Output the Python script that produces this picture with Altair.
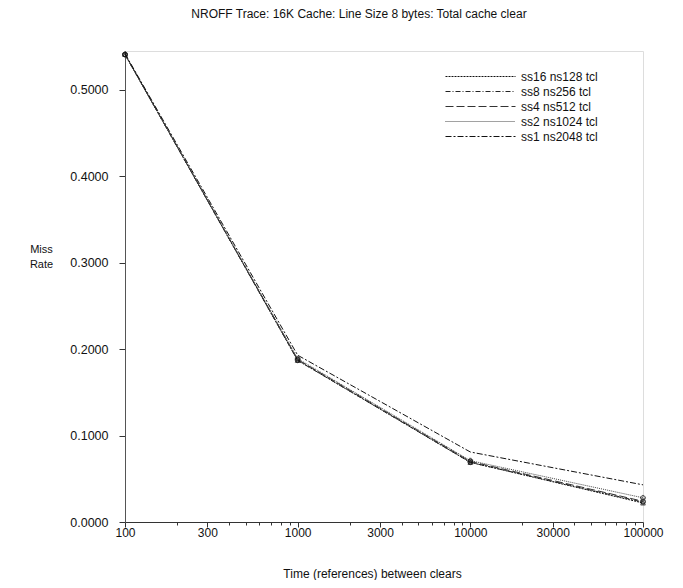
import altair as alt
import pandas as pd

times = [100, 1000, 10000, 100000]
series = ["ss16 ns128 tcl", "ss8 ns256 tcl", "ss4 ns512 tcl", "ss2 ns1024 tcl", "ss1 ns2048 tcl"]
ss16 = [0.541, 0.187, 0.069, 0.022]
ss8 = [0.541, 0.187, 0.069, 0.023]
ss4 = [0.541, 0.188, 0.070, 0.024]
ss2 = [0.541, 0.189, 0.071, 0.028]
ss1 = [0.542, 0.193, 0.081, 0.043]
marker_shapes = ["triangle-up", "circle", "circle", "cross"]

rows = []
for name, vals in zip(series, [ss16, ss8, ss4, ss2, ss1]):
    for t, v in zip(times, vals):
        rows.append({"time": t, "rate": v, "series": name})
df = pd.DataFrame(rows)

major = [100, 300, 1000, 3000, 10000, 30000, 100000]
minor = []
for base in [100, 1000, 10000]:
    for k in range(1, 10):
        minor.append(base * k)
minor.append(100000)

FONT = "Liberation Sans"
MAJOR_TEST = "indexof([100,300,1000,3000,10000,30000,100000], datum.value) >= 0"

xscale = alt.Scale(type="log", domain=[100, 100000], nice=False)
yscale = alt.Scale(domain=[0, 0.545], nice=False, zero=True)

x_axis = alt.Axis(
    values=minor,
    labelExpr=MAJOR_TEST + " ? format(datum.value, 'd') : ''",
    tickSize={"condition": {"test": MAJOR_TEST, "value": 5}, "value": 3},
    grid=False, labelFlush=False, labelOverlap=False,
    labelFont=FONT, labelFontSize=12, labelColor="#111", labelPadding=0,
    domainColor="#333", tickColor="#333",
    title="Time (references) between clears", titleFont=FONT, titleFontSize=12,
    titleFontWeight="normal", titleColor="#111", titleX=247, titleY=46,
    titleBaseline="top", titleAlign="center",
)
y_axis = alt.Axis(
    values=[0, 0.1, 0.2, 0.3, 0.4, 0.5], format=".4f", grid=False,
    tickSize=6, labelFont=FONT, labelFontSize=12.5, labelColor="#111", labelPadding=11,
    domainColor="#555", tickColor="#333",
    title=["Miss", "Rate"], titleAngle=0, titleFont=FONT, titleFontSize=11,
    titleFontWeight="normal", titleColor="#111", titleX=-84, titleY=192,
    titleAlign="center", titleBaseline="top", titleLineHeight=15,
)

color_scale = alt.Scale(domain=series, range=["#111111", "#222222", "#333333", "#444444", "#111111"])
dash_scale = alt.Scale(domain=series, range=[[2, 1], [5, 2, 1, 2], [8, 3], [1, 1], [6, 2, 2, 2]])

legend_opts = dict(
    title=None, orient="none", legendX=320, legendY=19, symbolType="stroke",
    symbolSize=4900, symbolStrokeWidth=1, clipHeight=13, rowPadding=2,
    labelFont=FONT, labelFontSize=12, labelColor="#111", labelOffset=5, padding=0,
)

lines = alt.Chart(df).mark_line(strokeWidth=1).encode(
    x=alt.X("time:Q", scale=xscale, axis=x_axis),
    y=alt.Y("rate:Q", scale=yscale, axis=y_axis),
    color=alt.Color("series:N", scale=color_scale, legend=alt.Legend(**legend_opts)),
    strokeDash=alt.StrokeDash("series:N", scale=dash_scale, legend=alt.Legend(**legend_opts)),
)

points = alt.Chart(df).transform_filter(
    alt.FieldOneOfPredicate(field="series", oneOf=series[:4])
).mark_point(size=22, strokeWidth=1, color="#111", filled=False).encode(
    x=alt.X("time:Q", scale=xscale),
    y=alt.Y("rate:Q", scale=yscale),
    shape=alt.Shape("series:N", scale=alt.Scale(domain=series[:4], range=marker_shapes), legend=None),
)

chart = alt.layer(lines, points).properties(
    width=518, height=471,
    autosize=alt.AutoSizeParams(type="none"),
    padding={"left": 117, "top": 43, "right": 32, "bottom": 58},
    title=alt.TitleParams(
        "NROFF Trace: 16K Cache: Line Size 8 bytes: Total cache clear",
        font=FONT, fontSize=12, fontWeight="normal", color="#111",
        anchor="middle", dx=-25, offset=29,
    ),
).configure_view(stroke=None).configure(background="white")

chart.save("out.html", embed_options={"renderer": "svg", "actions": False})
